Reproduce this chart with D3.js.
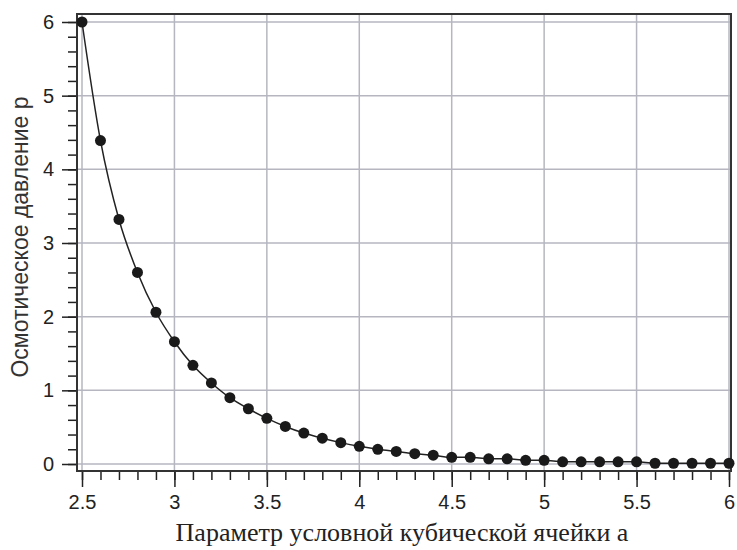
<!DOCTYPE html>
<html>
<head>
<meta charset="utf-8">
<script src="https://cdn.jsdelivr.net/npm/d3@7"></script>
<style>
    body { margin: 0; background: #fff; }
</style>
</head>
<body>
<svg id="grafico" width="737" height="550"></svg>
<script>
// Параметр ячейки a и давление p
var parametroA = [2.5, 2.6, 2.7, 2.8, 2.9, 3.0, 3.1, 3.2, 3.3, 3.4, 3.5, 3.6,
    3.7, 3.8, 3.9, 4.0, 4.1, 4.2, 4.3, 4.4, 4.5, 4.6, 4.7, 4.8,
    4.9, 5.0, 5.1, 5.2, 5.3, 5.4, 5.5, 5.6, 5.7, 5.8, 5.9, 6.0];
var presion = [6.0, 4.39, 3.32, 2.60, 2.06, 1.66, 1.34, 1.10, 0.90, 0.75, 0.62, 0.51,
    0.42, 0.35, 0.29, 0.24, 0.20, 0.17, 0.14, 0.12, 0.09, 0.09, 0.07, 0.07,
    0.05, 0.05, 0.03, 0.03, 0.03, 0.03, 0.03, 0.01, 0.01, 0.01, 0.01, 0.01];
var ticksX = [2.5, 3, 3.5, 4, 4.5, 5, 5.5, 6];
var ticksY = [0, 1, 2, 3, 4, 5, 6];

var datos = parametroA.map(function (a, i) { return { a: a, p: presion[i] }; });

var svg = d3.select("#grafico");

// рамка графика
var marco = { left: 77, top: 14, right: 731, bottom: 471 };

var x = d3.scaleLinear().domain([2.5, 6]).range([82, 729]);
var y = d3.scaleLinear().domain([0, 6]).range([464, 22]);

// сетка
svg.append("g")
    .selectAll("line.vx")
    .data(ticksX)
    .enter().append("line")
    .attr("x1", function (d) { return x(d); })
    .attr("x2", function (d) { return x(d); })
    .attr("y1", marco.top)
    .attr("y2", marco.bottom)
    .attr("stroke", "#b6b6c0")
    .attr("stroke-width", 1.5);
svg.append("g")
    .selectAll("line.hy")
    .data(ticksY)
    .enter().append("line")
    .attr("x1", marco.left)
    .attr("x2", marco.right)
    .attr("y1", function (d) { return y(d); })
    .attr("y2", function (d) { return y(d); })
    .attr("stroke", "#b6b6c0")
    .attr("stroke-width", 1.5);

// оси
var ejeX = svg.append("g")
    .attr("transform", "translate(0," + marco.bottom + ")");
ejeX.call(d3.axisBottom(x).tickValues(d3.range(25, 61).map(function (v) { return v / 10; }))
    .tickSize(9).tickFormat(""));
ejeX.append("g").call(d3.axisBottom(x).tickValues(ticksX).tickSize(16).tickPadding(8)
    .tickFormat(d3.format("")));

var ejeY = svg.append("g")
    .attr("transform", "translate(" + marco.left + ",0)");
ejeY.call(d3.axisLeft(y).tickValues(d3.range(0, 31).map(function (v) { return v / 5; }))
    .tickSize(9).tickFormat(""));
ejeY.append("g").call(d3.axisLeft(y).tickValues(ticksY).tickSize(15).tickPadding(8)
    .tickFormat(d3.format("")));

svg.selectAll(".domain").remove();
svg.selectAll(".tick line").attr("stroke", "#222").attr("stroke-width", 1.5);
svg.selectAll(".tick text")
    .attr("fill", "#222")
    .style("font-family", "'Liberation Sans', Arial, sans-serif")
    .style("font-size", "20px");

// рамка
svg.append("rect")
    .attr("x", marco.left)
    .attr("y", marco.top)
    .attr("width", marco.right - marco.left)
    .attr("height", marco.bottom - marco.top)
    .attr("fill", "none")
    .attr("stroke", "#333")
    .attr("stroke-width", 2);

// кривая и точки
svg.append("path")
    .datum(datos)
    .attr("fill", "none")
    .attr("stroke", "#222")
    .attr("stroke-width", 1.5)
    .attr("d", d3.line()
        .curve(d3.curveMonotoneX)
        .x(function (d) { return x(d.a); })
        .y(function (d) { return y(d.p); })
    );
svg.append("g")
    .selectAll("circle")
    .data(datos)
    .enter().append("circle")
    .attr("cx", function (d) { return x(d.a); })
    .attr("cy", function (d) { return y(d.p); })
    .attr("r", 5.5)
    .attr("fill", "#1a1a1a");

// подписи осей
svg.append("text")
    .attr("x", 402)
    .attr("y", 541)
    .style("text-anchor", "middle")
    .style("font-family", "'Liberation Serif', 'Times New Roman', serif")
    .style("font-size", "26px")
    .attr("fill", "#222")
    .text("Параметр условной кубической ячейки a");

svg.append("text")
    .attr("transform", "translate(28,237) rotate(-90)")
    .style("text-anchor", "middle")
    .style("font-family", "'Liberation Sans', Arial, sans-serif")
    .style("font-size", "23px")
    .attr("fill", "#333")
    .text("Осмотическое давление р");
</script>
</body>
</html>
